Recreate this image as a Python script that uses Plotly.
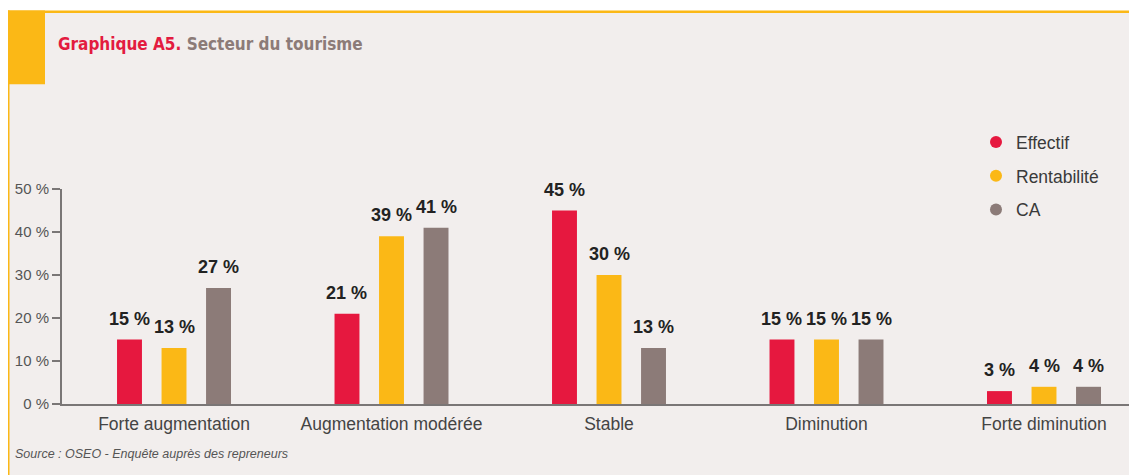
import plotly.graph_objects as go

# ---- data ----
categories = ["Forte augmentation", "Augmentation modérée", "Stable", "Diminution", "Forte diminution"]
effectif = [15, 21, 45, 15, 3]
rentabilite = [13, 39, 30, 15, 4]
ca = [27, 41, 13, 15, 4]
series_names = ["Effectif", "Rentabilité", "CA"]
y_ticks = [0, 10, 20, 30, 40, 50]
y_tick_labels = [f"{v} %" for v in y_ticks]

# ---- style ----
colors = ["#e6183f", "#fbb816", "#8c7b78"]
panel_bg = "#f2eeed"
yellow = "#fbb816"
OFF = 8                      # page body margin in the browser
W, H = 1137 - OFF, 475 - OFF
L, R, T, B = 62 - OFF, 6, 189 - OFF, 70.5
BARGAP = 0.386
BARGROUPGAP = 0.44

def xp(px):
    """page pixel x -> paper x"""
    return (px - OFF - L) / (W - L - R)

def yp(py):
    """page pixel y -> paper y"""
    return (H - B - (py - OFF)) / (H - T - B)

fig = go.Figure()
series = [effectif, rentabilite, ca]
for name, vals, col in zip(series_names, series, colors):
    fig.add_trace(go.Bar(x=categories, y=vals, name=name, marker_color=col,
                         marker_line_width=0, showlegend=False, hoverinfo="x+y"))

# legend entries with round markers
for k, (name, col) in enumerate(zip(series_names, colors)):
    fig.add_trace(go.Scatter(x=[None], y=[None], mode="markers", name=name,
                             marker=dict(symbol="circle", size=15, color=col),
                             legendgroup=f"g{k}", showlegend=True))

annotations = []
slot = (1 - BARGAP) / len(series)
for i, vals in enumerate(series):
    for j, v in enumerate(vals):
        annotations.append(dict(
            x=j + (i - (len(series) - 1) / 2) * slot, y=v, xref="x", yref="y",
            text=f"<b>{v} %</b>", showarrow=False, yanchor="bottom", xanchor="center",
            yshift=9, font=dict(size=18, color="#222222", family="Liberation Sans, Arial, sans-serif")))

annotations.append(dict(
    x=xp(56), y=yp(44), xref="paper", yref="paper", xanchor="left", yanchor="middle",
    showarrow=False,
    text="<b><span style='color:#e31b3f'>Graphique A5.</span> <span style='color:#8c7b78'>Secteur du tourisme</span></b>",
    font=dict(size=17, family="Liberation Sans Narrow, DejaVu Sans Condensed, Arial Narrow, sans-serif")))
annotations.append(dict(
    x=xp(13), y=yp(455), xref="paper", yref="paper", xanchor="left", yanchor="middle",
    showarrow=False, text="<i>Source : OSEO - Enquête auprès des repreneurs</i>",
    font=dict(size=12.5, color="#555555", family="Liberation Sans, Arial, sans-serif")))

shapes = [
    # panel
    dict(type="rect", xref="paper", yref="paper", x0=xp(8), x1=xp(1150), y0=yp(11), y1=yp(490),
         fillcolor=panel_bg, line_width=0, layer="below"),
    # top yellow line
    dict(type="rect", xref="paper", yref="paper", x0=xp(7), x1=xp(1150), y0=yp(10), y1=yp(12.7),
         fillcolor=yellow, line_width=0, layer="below"),
    # left yellow line
    dict(type="rect", xref="paper", yref="paper", x0=xp(7), x1=xp(9.5), y0=yp(10), y1=yp(490),
         fillcolor=yellow, line_width=0, layer="below"),
    # yellow block
    dict(type="rect", xref="paper", yref="paper", x0=xp(7), x1=xp(45), y0=yp(10), y1=yp(84),
         fillcolor=yellow, line_width=0, layer="below"),
]

fig.update_layout(
    width=W, height=H, autosize=False,
    margin=dict(l=L, r=R, t=T, b=B, pad=0),
    paper_bgcolor="white", plot_bgcolor="rgba(0,0,0,0)",
    barmode="group", bargap=BARGAP, bargroupgap=BARGROUPGAP,
    font=dict(family="Liberation Sans, Arial, sans-serif", color="#444444"),
    showlegend=True,
    legend=dict(x=xp(976), y=yp(124), xanchor="left", yanchor="top",
                bgcolor="rgba(0,0,0,0)", font=dict(size=17.5, color="#3a3a3a"),
                tracegroupgap=8, itemsizing="constant"),
    annotations=annotations, shapes=shapes,
)
fig.update_xaxes(range=[-0.515, 4.40], showgrid=False, zeroline=False,
                 showline=True, linecolor="#7a7676", linewidth=2,
                 ticks="", ticklabelstandoff=3,
                 tickfont=dict(size=17.5, color="#444444"), fixedrange=True)
fig.update_yaxes(range=[0, 50], tickvals=y_ticks, ticktext=y_tick_labels,
                 showgrid=False, zeroline=False, showline=True, linecolor="#7a7676", linewidth=2,
                 ticks="outside", ticklen=8, tickwidth=2, tickcolor="#7a7676",
                 tickfont=dict(size=15, color="#555555"), fixedrange=True)

fig.write_html("out.html")
